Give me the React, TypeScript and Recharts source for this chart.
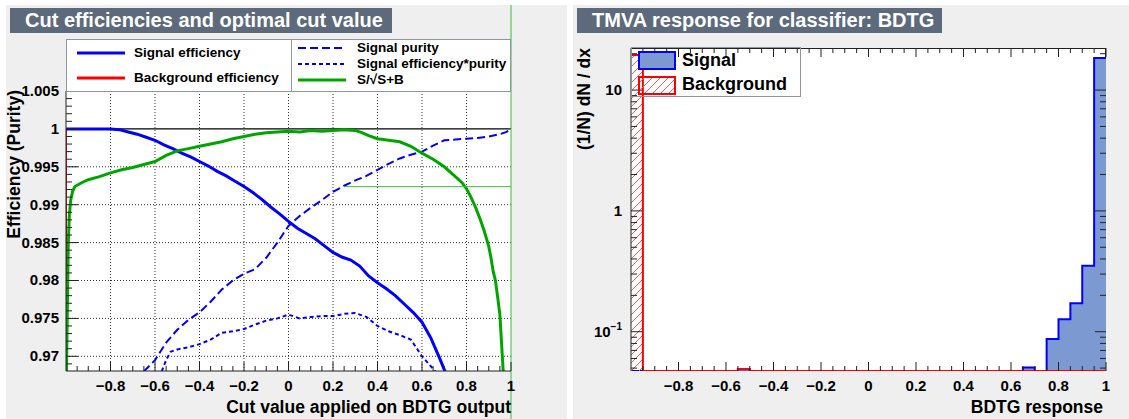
import React from 'react';
import { ComposedChart, Line, Area, XAxis, YAxis, CartesianGrid, ReferenceLine } from 'recharts';

const FONT = '"Liberation Sans", Arial, Helvetica, sans-serif';
const PANEL_BG = '#efefef';
const TITLE_BG = '#5c6a7c';
const FRAME = '#222';
const BLUE = '#0000ff';
const RED = '#ff0000';
const GREEN = '#00a600';
const GREEN_THIN = '#3cbc3c';
const SIG_FILL = '#7d99d1';

// ---- left panel: cut efficiencies ----
const CUT_TICKS = [
  -0.95, -0.9, -0.85, -0.8, -0.75, -0.7, -0.65, -0.6, -0.55, -0.5, -0.45, -0.4, -0.35, -0.3, -0.25, -0.2,
  -0.15, -0.1, -0.05, 0, 0.05, 0.1, 0.15, 0.2, 0.25, 0.3, 0.35, 0.4, 0.45, 0.5, 0.55, 0.6, 0.65, 0.7, 0.75,
  0.8, 0.85, 0.9, 0.95, 1,
];
const EFF_TICKS = [
  0.969, 0.97, 0.971, 0.972, 0.973, 0.974, 0.975, 0.976, 0.977, 0.978, 0.979, 0.98, 0.981, 0.982, 0.983,
  0.984, 0.985, 0.986, 0.987, 0.988, 0.989, 0.99, 0.991, 0.992, 0.993, 0.994, 0.995, 0.996, 0.997, 0.998,
  0.999, 1, 1.001, 1.002, 1.003, 1.004, 1.005,
];
const CUT_GRID = [-0.8, -0.6, -0.4, -0.2, 0, 0.2, 0.4, 0.6, 0.8];
const EFF_GRID = [0.97, 0.975, 0.98, 0.985, 0.99, 0.995, 1.005];
const EFF_DOMAIN: [number, number] = [0.96806, 1.005];

const SIG_EFF: [number, number][] = [
  [-1, 1], [-0.9, 1], [-0.8, 1], [-0.76, 0.9999], [-0.72, 0.9996], [-0.68, 0.9993], [-0.64, 0.9989],
  [-0.6, 0.9985], [-0.56, 0.9979], [-0.52, 0.9974], [-0.48, 0.9968], [-0.44, 0.9963], [-0.4, 0.9957],
  [-0.36, 0.9951], [-0.32, 0.9944], [-0.28, 0.9938], [-0.24, 0.9931], [-0.2, 0.9924], [-0.16, 0.9916],
  [-0.12, 0.9907], [-0.08, 0.9897], [-0.04, 0.9888], [0, 0.9878], [0.04, 0.9869], [0.08, 0.9862],
  [0.12, 0.9855], [0.16, 0.9846], [0.2, 0.9837], [0.24, 0.9831], [0.28, 0.9827], [0.32, 0.9819],
  [0.36, 0.9806], [0.4, 0.9797], [0.44, 0.9789], [0.48, 0.978], [0.52, 0.9769], [0.56, 0.9758],
  [0.6, 0.9745], [0.64, 0.9724], [0.68, 0.9697], [0.72, 0.9668],
];
const BKG_EFF: [number, number][] = [[-1, 1], [-1, 0.9]];
const SIG_PURITY: [number, number][] = [
  [-0.65, 0.968], [-0.6, 0.9695], [-0.55, 0.9718], [-0.5, 0.9735], [-0.45, 0.9748], [-0.4, 0.9758],
  [-0.35, 0.9772], [-0.3, 0.9788], [-0.25, 0.98], [-0.2, 0.9809], [-0.15, 0.9815], [-0.1, 0.983],
  [-0.05, 0.985], [0, 0.9872], [0.05, 0.9885], [0.1, 0.9896], [0.15, 0.9906], [0.2, 0.9917],
  [0.25, 0.9925], [0.3, 0.9932], [0.35, 0.9938], [0.4, 0.9946], [0.45, 0.9954], [0.5, 0.9961],
  [0.55, 0.9966], [0.6, 0.997], [0.65, 0.9978], [0.7, 0.9985], [0.75, 0.9986], [0.8, 0.9987],
  [0.85, 0.9988], [0.9, 0.999], [0.95, 0.9993], [0.98, 0.9996], [1, 1],
];
const SIG_EFF_PURITY: [number, number][] = [
  [-0.57, 0.968], [-0.55, 0.9695], [-0.53, 0.9706], [-0.5, 0.9709], [-0.45, 0.9712], [-0.4, 0.9716],
  [-0.35, 0.9722], [-0.3, 0.9731], [-0.25, 0.9733], [-0.2, 0.9736], [-0.15, 0.9742], [-0.1, 0.9747],
  [-0.05, 0.975], [0, 0.9755], [0.05, 0.975], [0.1, 0.9752], [0.15, 0.9753], [0.2, 0.9753],
  [0.25, 0.9756], [0.3, 0.9757], [0.35, 0.9752], [0.4, 0.974], [0.45, 0.9733], [0.5, 0.9728],
  [0.55, 0.9722], [0.6, 0.97], [0.63, 0.969], [0.66, 0.968],
];
const SIGNIFICANCE: [number, number][] = [
  [-0.998, 0.9675], [-0.994, 0.976], [-0.99, 0.9846], [-0.985, 0.9886], [-0.979, 0.9906], [-0.97, 0.9918],
  [-0.96, 0.9924], [-0.93, 0.9929], [-0.9, 0.9933], [-0.85, 0.9937], [-0.8, 0.9942], [-0.75, 0.9946],
  [-0.7, 0.9949], [-0.65, 0.9953], [-0.6, 0.9957], [-0.55, 0.9965], [-0.5, 0.9971], [-0.45, 0.9974],
  [-0.4, 0.9977], [-0.35, 0.998], [-0.3, 0.9983], [-0.25, 0.9987], [-0.2, 0.999], [-0.15, 0.9993],
  [-0.1, 0.9995], [-0.05, 0.9996], [0, 0.9997], [0.05, 0.9996], [0.1, 0.9998], [0.15, 0.9997],
  [0.2, 0.9998], [0.25, 0.9999], [0.3, 0.9998], [0.33, 0.9995], [0.36, 0.9991], [0.4, 0.9987],
  [0.45, 0.9985], [0.5, 0.9983], [0.55, 0.9977], [0.6, 0.9968], [0.65, 0.996], [0.7, 0.995],
  [0.75, 0.9937], [0.78, 0.9929], [0.8, 0.9921], [0.82, 0.991], [0.84, 0.9897], [0.86, 0.9882],
  [0.88, 0.9865], [0.9, 0.9845], [0.91, 0.983], [0.92, 0.9812], [0.93, 0.98], [0.94, 0.9778],
  [0.95, 0.9755], [0.96, 0.9705], [0.966, 0.9675],
];
// optimal cut marker
const OPT_CUT = 1;
const OPT_LEVEL = 0.99238;
const OPT_FROM = 0.25;

// ---- right panel: classifier response ----
const Y_MIN = 0.0473;
const Y_MAX = 22.3;
const LOG_TICKS = [
  0.05, 0.06, 0.07, 0.08, 0.09, 0.1, 0.2, 0.3, 0.4, 0.5, 0.6, 0.7, 0.8, 0.9, 1, 2, 3, 4, 5, 6, 7, 8, 9, 10, 20,
];
const SIGNAL_HIST = [
  0, 0, 0, 0, 0, 0, 0, 0, 0, 0.049,
  0, 0, 0, 0, 0, 0, 0, 0, 0, 0,
  0, 0, 0, 0, 0, 0, 0, 0, 0, 0,
  0, 0, 0, 0.0505, 0, 0.087, 0.127, 0.172, 0.352, 18.4,
];
const BKG_HIST = [
  19.5, 0, 0, 0, 0, 0, 0, 0, 0, 0.049,
  0, 0, 0, 0, 0, 0, 0, 0, 0, 0,
  0, 0, 0, 0, 0, 0, 0, 0, 0, 0,
  0, 0, 0, 0, 0, 0, 0, 0, 0, 0,
];
const BIN_EDGES = Array.from({ length: SIGNAL_HIST.length + 1 }, (_, i) => +(-1 + i * 0.05).toFixed(2));

const HIST_DATA = BIN_EDGES.map((x, i) => {
  const k = Math.min(i, SIGNAL_HIST.length - 1);
  return { x, sig: Math.max(SIGNAL_HIST[k], Y_MIN), bkg: Math.max(BKG_HIST[k], Y_MIN) };
});

// plot-area sizes of the response frame (used to mirror ticks on top/right)
const RESP_W = 475;
const RESP_H = 323;

const pts = (arr: [number, number][]) => arr.map(([x, y]) => ({ x, y }));
const isStep = (v: number, step: number) => Math.abs(v / step - Math.round(v / step)) < 1e-6;
const isDecade = (v: number) => Math.abs(Math.log10(v) - Math.round(Math.log10(v))) < 1e-6;

function fmtX(v: number) {
  if (Math.abs(v) < 1e-9) return '0';
  const a = Math.abs(v);
  const s = Math.abs(a - 1) < 1e-9 ? '1' : a.toFixed(1);
  return v < 0 ? '\u2212' + s : s;
}

const labelStyle = { fontFamily: FONT, fontSize: 15, fontWeight: 'bold' as const, fill: '#000' };

function makeBottomTick(mirrorTop: number) {
  return function BottomTick(props: any) {
    const { x, y, payload } = props;
    const v = payload.value as number;
    const major = isStep(v, 0.2);
    const len = major ? 9 : 5;
    return (
      <g>
        <line x1={x} x2={x} y1={y} y2={y - len} stroke={FRAME} strokeWidth={1} />
        {mirrorTop > 0 && (
          <line x1={x} x2={x} y1={y - mirrorTop} y2={y - mirrorTop + len} stroke={FRAME} strokeWidth={1} />
        )}
        {major && (
          <text x={x} y={y + 20} textAnchor="middle" {...labelStyle}>
            {fmtX(v)}
          </text>
        )}
      </g>
    );
  };
}
const EffXTick = makeBottomTick(0);
const RespXTick = makeBottomTick(RESP_H);

function EffTick(props: any) {
  const { x, y, payload } = props;
  const v = payload.value as number;
  const major = isStep(v, 0.005);
  return (
    <g>
      <line x1={x} x2={x + (major ? 12 : 6)} y1={y} y2={y} stroke={FRAME} strokeWidth={1} />
      {major && (
        <text x={x - 7} y={y + 5} textAnchor="end" {...labelStyle}>
          {String(parseFloat(v.toFixed(3)))}
        </text>
      )}
    </g>
  );
}

function LogTick(props: any) {
  const { x, y, payload } = props;
  const v = payload.value as number;
  const major = isDecade(v);
  const len = major ? 11 : 6;
  return (
    <g>
      <line x1={x} x2={x + len} y1={y} y2={y} stroke={FRAME} strokeWidth={1} />
      <line x1={x + RESP_W} x2={x + RESP_W - len} y1={y} y2={y} stroke={FRAME} strokeWidth={1} />
      {major && (
        <text x={x - 9} y={y + 5} textAnchor="end" {...labelStyle}>
          {v >= 1 ? (
            String(v)
          ) : (
            <>
              <tspan>10</tspan>
              <tspan dy={-7} fontSize={10}>
                {'\u2212' + Math.round(-Math.log10(v))}
              </tspan>
            </>
          )}
        </text>
      )}
    </g>
  );
}

function Hatch({ id }: { id: string }) {
  return (
    <pattern id={id} patternUnits="userSpaceOnUse" width={8} height={8}>
      <path d="M0,8 L8,0 M-2,2 L2,-2 M6,10 L10,6" stroke="#ff5a5a" strokeWidth={1} />
    </pattern>
  );
}

const titleBox = (text: string, width: number) => (
  <div
    style={{
      position: 'absolute',
      left: 4,
      top: 3,
      width,
      height: 25,
      background: TITLE_BG,
      color: '#fff',
      fontSize: 20,
      fontWeight: 'bold',
      lineHeight: '25px',
      paddingLeft: 15,
      boxSizing: 'border-box',
      whiteSpace: 'nowrap',
    }}
  >
    {text}
  </div>
);

const axisTitle = {
  position: 'absolute' as const,
  fontSize: 17.5,
  fontWeight: 'bold' as const,
  lineHeight: '22px',
  whiteSpace: 'nowrap' as const,
  color: '#000',
};

const LEFT_LEGEND = [
  { label: 'Signal efficiency', color: BLUE, width: 3, dash: undefined, left: 10, text: 67, y: 13 },
  { label: 'Background efficiency', color: RED, width: 3, dash: undefined, left: 10, text: 67, y: 38 },
  { label: 'Signal purity', color: BLUE, width: 2, dash: '8 4', left: 231, text: 290, y: 8 },
  { label: 'Signal efficiency*purity', color: BLUE, width: 2, dash: '4 3', left: 231, text: 290, y: 24 },
  { label: 'S/\u221AS+B', color: GREEN, width: 3, dash: undefined, left: 231, text: 290, y: 40 },
];

function EfficiencyPanel() {
  return (
    <div style={{ position: 'absolute', left: 6, top: 5, width: 561, height: 414, background: PANEL_BG }}>
      <div style={{ position: 'absolute', left: 60, top: 86, width: 445, height: 280, background: '#fff' }} />
      {titleBox('Cut efficiencies and optimal cut value', 382)}
      <div style={{ position: 'absolute', left: 0, top: 0 }}>
        <ComposedChart width={561} height={414} margin={{ top: 86, right: 56, left: 15, bottom: 18 }}>
          <CartesianGrid stroke="#333" strokeDasharray="1 2" horizontalValues={EFF_GRID} verticalValues={CUT_GRID} />
          <CartesianGrid stroke="#000" strokeWidth={1.2} vertical={false} horizontalValues={[1]} />
          <XAxis
            type="number"
            dataKey="x"
            domain={[-1, 1]}
            ticks={CUT_TICKS}
            interval={0}
            tick={EffXTick}
            tickLine={false}
            tickSize={0}
            tickMargin={0}
            height={30}
            axisLine={{ stroke: FRAME }}
            allowDataOverflow
          />
          <YAxis
            type="number"
            dataKey="y"
            domain={EFF_DOMAIN}
            ticks={EFF_TICKS}
            interval={0}
            tick={EffTick}
            tickLine={false}
            tickSize={0}
            tickMargin={0}
            width={45}
            axisLine={{ stroke: FRAME }}
            allowDataOverflow
          />
          <Line data={pts(BKG_EFF)} dataKey="y" stroke={RED} strokeWidth={2} dot={false} type="linear" isAnimationActive={false} />
          <Line data={pts(SIG_PURITY)} dataKey="y" stroke={BLUE} strokeWidth={2} strokeDasharray="8 4" dot={false} type="linear" isAnimationActive={false} />
          <Line data={pts(SIG_EFF_PURITY)} dataKey="y" stroke={BLUE} strokeWidth={2} strokeDasharray="4 3" dot={false} type="linear" isAnimationActive={false} />
          <Line data={pts(SIG_EFF)} dataKey="y" stroke={BLUE} strokeWidth={3} dot={false} type="linear" isAnimationActive={false} />
          <Line data={pts(SIGNIFICANCE)} dataKey="y" stroke={GREEN} strokeWidth={3} dot={false} type="linear" isAnimationActive={false} />
          <ReferenceLine
            segment={[{ x: OPT_FROM, y: OPT_LEVEL }, { x: OPT_CUT, y: OPT_LEVEL }]}
            stroke={GREEN_THIN}
            strokeWidth={1}
            ifOverflow="visible"
          />
          <ReferenceLine
            segment={[{ x: OPT_CUT, y: 0.9617 }, { x: OPT_CUT, y: 1.0165 }]}
            stroke={GREEN_THIN}
            strokeWidth={1}
            ifOverflow="visible"
          />
        </ComposedChart>
      </div>
      <div
        style={{
          position: 'absolute',
          left: 60,
          top: 34,
          width: 445,
          height: 53,
          background: '#fff',
          border: '1px solid #8f959c',
          boxSizing: 'border-box',
          fontSize: 13.5,
          fontWeight: 'bold',
        }}
      >
        <div style={{ position: 'absolute', left: 224, top: 0, width: 1, height: 51, background: '#8f959c' }} />
        {LEFT_LEGEND.map((it) => (
          <React.Fragment key={it.label}>
            <svg width={48} height={6} style={{ position: 'absolute', left: it.left, top: it.y - 3 }}>
              <line x1={0} x2={48} y1={3} y2={3} stroke={it.color} strokeWidth={it.width} strokeDasharray={it.dash} />
            </svg>
            <div style={{ position: 'absolute', left: it.text, top: it.y - 8, lineHeight: '16px', whiteSpace: 'nowrap' }}>
              {it.label}
            </div>
          </React.Fragment>
        ))}
      </div>
      <div style={{ ...axisTitle, right: 56, top: 391 }}>Cut value applied on BDTG output</div>
      <div
        style={{
          ...axisTitle,
          left: -2,
          top: 345,
          width: 260,
          lineHeight: '20px',
          textAlign: 'right',
          transform: 'rotate(-90deg)',
          transformOrigin: 'left top',
        }}
      >
        Efficiency (Purity)
      </div>
    </div>
  );
}

function ResponsePanel() {
  return (
    <div style={{ position: 'absolute', left: 573, top: 5, width: 556, height: 414, background: PANEL_BG }}>
      <div
        style={{
          position: 'absolute',
          left: 58,
          top: 43,
          width: RESP_W,
          height: RESP_H,
          background: '#fff',
          borderTop: `1px solid ${FRAME}`,
          borderRight: `1px solid ${FRAME}`,
          boxSizing: 'border-box',
        }}
      />
      {titleBox('TMVA response for classifier: BDTG', 365)}
      <div style={{ position: 'absolute', left: 0, top: 0 }}>
        <ComposedChart width={556} height={414} data={HIST_DATA} margin={{ top: 43, right: 23, left: 13, bottom: 18 }}>
          <defs>
            <Hatch id="bkgHatch" />
          </defs>
          <XAxis
            type="number"
            dataKey="x"
            domain={[-1, 1]}
            ticks={CUT_TICKS}
            interval={0}
            tick={RespXTick}
            tickLine={false}
            tickSize={0}
            tickMargin={0}
            height={30}
            axisLine={false}
            allowDataOverflow
          />
          <YAxis
            type="number"
            scale="log"
            domain={[Y_MIN, Y_MAX]}
            ticks={LOG_TICKS}
            interval={0}
            tick={LogTick}
            tickLine={false}
            tickSize={0}
            tickMargin={0}
            width={45}
            axisLine={{ stroke: FRAME }}
            allowDataOverflow
          />
          <Area
            type="stepAfter"
            dataKey="sig"
            baseValue={Y_MIN}
            stroke={BLUE}
            strokeWidth={2}
            fill={SIG_FILL}
            fillOpacity={1}
            dot={false}
            activeDot={false}
            isAnimationActive={false}
          />
          <Area
            type="stepAfter"
            dataKey="bkg"
            baseValue={Y_MIN}
            stroke={RED}
            strokeWidth={2}
            fill="url(#bkgHatch)"
            fillOpacity={1}
            dot={false}
            activeDot={false}
            isAnimationActive={false}
          />
        </ComposedChart>
      </div>
      <div
        style={{
          position: 'absolute',
          left: 58,
          top: 42,
          width: 170,
          height: 50,
          border: '1px solid #8f959c',
          boxSizing: 'border-box',
          fontSize: 18,
          fontWeight: 'bold',
        }}
      >
        <svg width={38} height={19} style={{ position: 'absolute', left: 6, top: 3 }}>
          <rect x={1} y={1} width={36} height={17} fill={SIG_FILL} stroke={BLUE} strokeWidth={2} />
        </svg>
        <div style={{ position: 'absolute', left: 50, top: 1, lineHeight: '22px' }}>Signal</div>
        <svg width={38} height={19} style={{ position: 'absolute', left: 6, top: 28 }}>
          <defs>
            <Hatch id="bkgHatchLegend" />
          </defs>
          <rect x={1} y={1} width={36} height={17} fill="url(#bkgHatchLegend)" stroke={RED} strokeWidth={2} />
        </svg>
        <div style={{ position: 'absolute', left: 50, top: 25, lineHeight: '22px' }}>Background</div>
      </div>
      <div style={{ ...axisTitle, right: 26, top: 391 }}>BDTG response</div>
      <div
        style={{
          ...axisTitle,
          left: 1,
          top: 303,
          width: 260,
          lineHeight: '20px',
          textAlign: 'right',
          transform: 'rotate(-90deg)',
          transformOrigin: 'left top',
        }}
      >
        (1/N) dN / dx
      </div>
    </div>
  );
}

export default function App() {
  return (
    <div
      style={{
        position: 'absolute',
        left: 0,
        top: 0,
        width: 1129,
        height: 419,
        background: '#fff',
        fontFamily: FONT,
        overflow: 'hidden',
      }}
    >
      <EfficiencyPanel />
      <ResponsePanel />
    </div>
  );
}
